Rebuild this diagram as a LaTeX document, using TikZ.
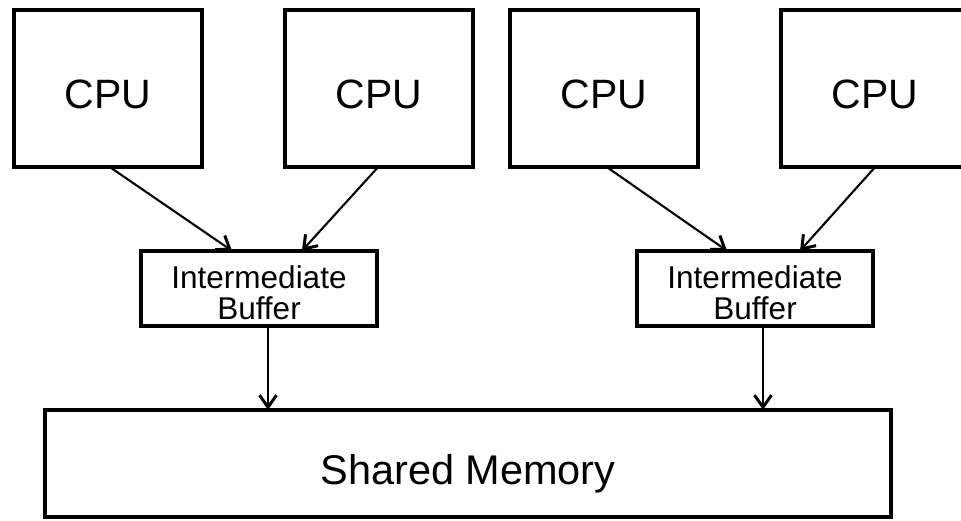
\documentclass[tikz,border=0pt]{standalone}
\usepackage{fontspec}
\setmainfont{Liberation Sans}
\usetikzlibrary{arrows.meta,calc}
\begin{document}
\begin{tikzpicture}[x=1pt,y=-1pt,
  cpubox/.style={draw, line width=3.6pt, minimum width=188.4pt, minimum height=157.4pt,
    inner sep=0pt, outer sep=0pt, font=\fontsize{41}{49}\selectfont,
    text height=41pt, text depth=0pt},
  bufbox/.style={draw, line width=3.6pt, minimum width=236.4pt, minimum height=75.4pt,
    inner sep=0pt, outer sep=0pt, align=center, font=\fontsize{31.5}{31}\selectfont},
  membox/.style={draw, line width=3.6pt, minimum width=846.4pt, minimum height=107.4pt,
    inner sep=0pt, outer sep=0pt, font=\fontsize{41.5}{49}\selectfont,
    text height=41pt, text depth=0pt},
  conn/.style={line width=2.1pt, -{Straight Barb[length=12pt,width=17pt,line width=3pt]}}
]
\clip (0,0) rectangle (961,521);
\node[cpubox] (c1) at (108,88.5) {CPU};
\node[cpubox] (c2) at (379,88.5) {CPU};
\node[cpubox] (c3) at (604,88.5) {CPU};
\node[cpubox] (c4) at (875,88.5) {CPU};
\node[bufbox] (b1) at (259,288.5) {\rule{0pt}{32pt}Intermediate\\Buffer};
\node[bufbox] (b2) at (755,288.5) {\rule{0pt}{32pt}Intermediate\\Buffer};
\node[membox] (sm) at (468,463.5) {Shared Memory};
\draw[conn] ($(c1.south)+(2,0)$) -- ($(b1.north)+(-27,0)$);
\draw[conn] ($(c2.south)+(-1,0)$) -- ($(b1.north)+(43,0)$);
\draw[conn] ($(c3.south)+(3,0)$) -- ($(b2.north)+(-28,0)$);
\draw[conn] (c4.south) -- ($(b2.north)+(45,0)$);
\coordinate (d1) at ($(b1.south)+(9,0)$);
\coordinate (d2) at ($(b2.south)+(8,0)$);
\draw[conn] (d1) -- (d1 |- sm.north);
\draw[conn] (d2) -- (d2 |- sm.north);
\end{tikzpicture}
\end{document}
